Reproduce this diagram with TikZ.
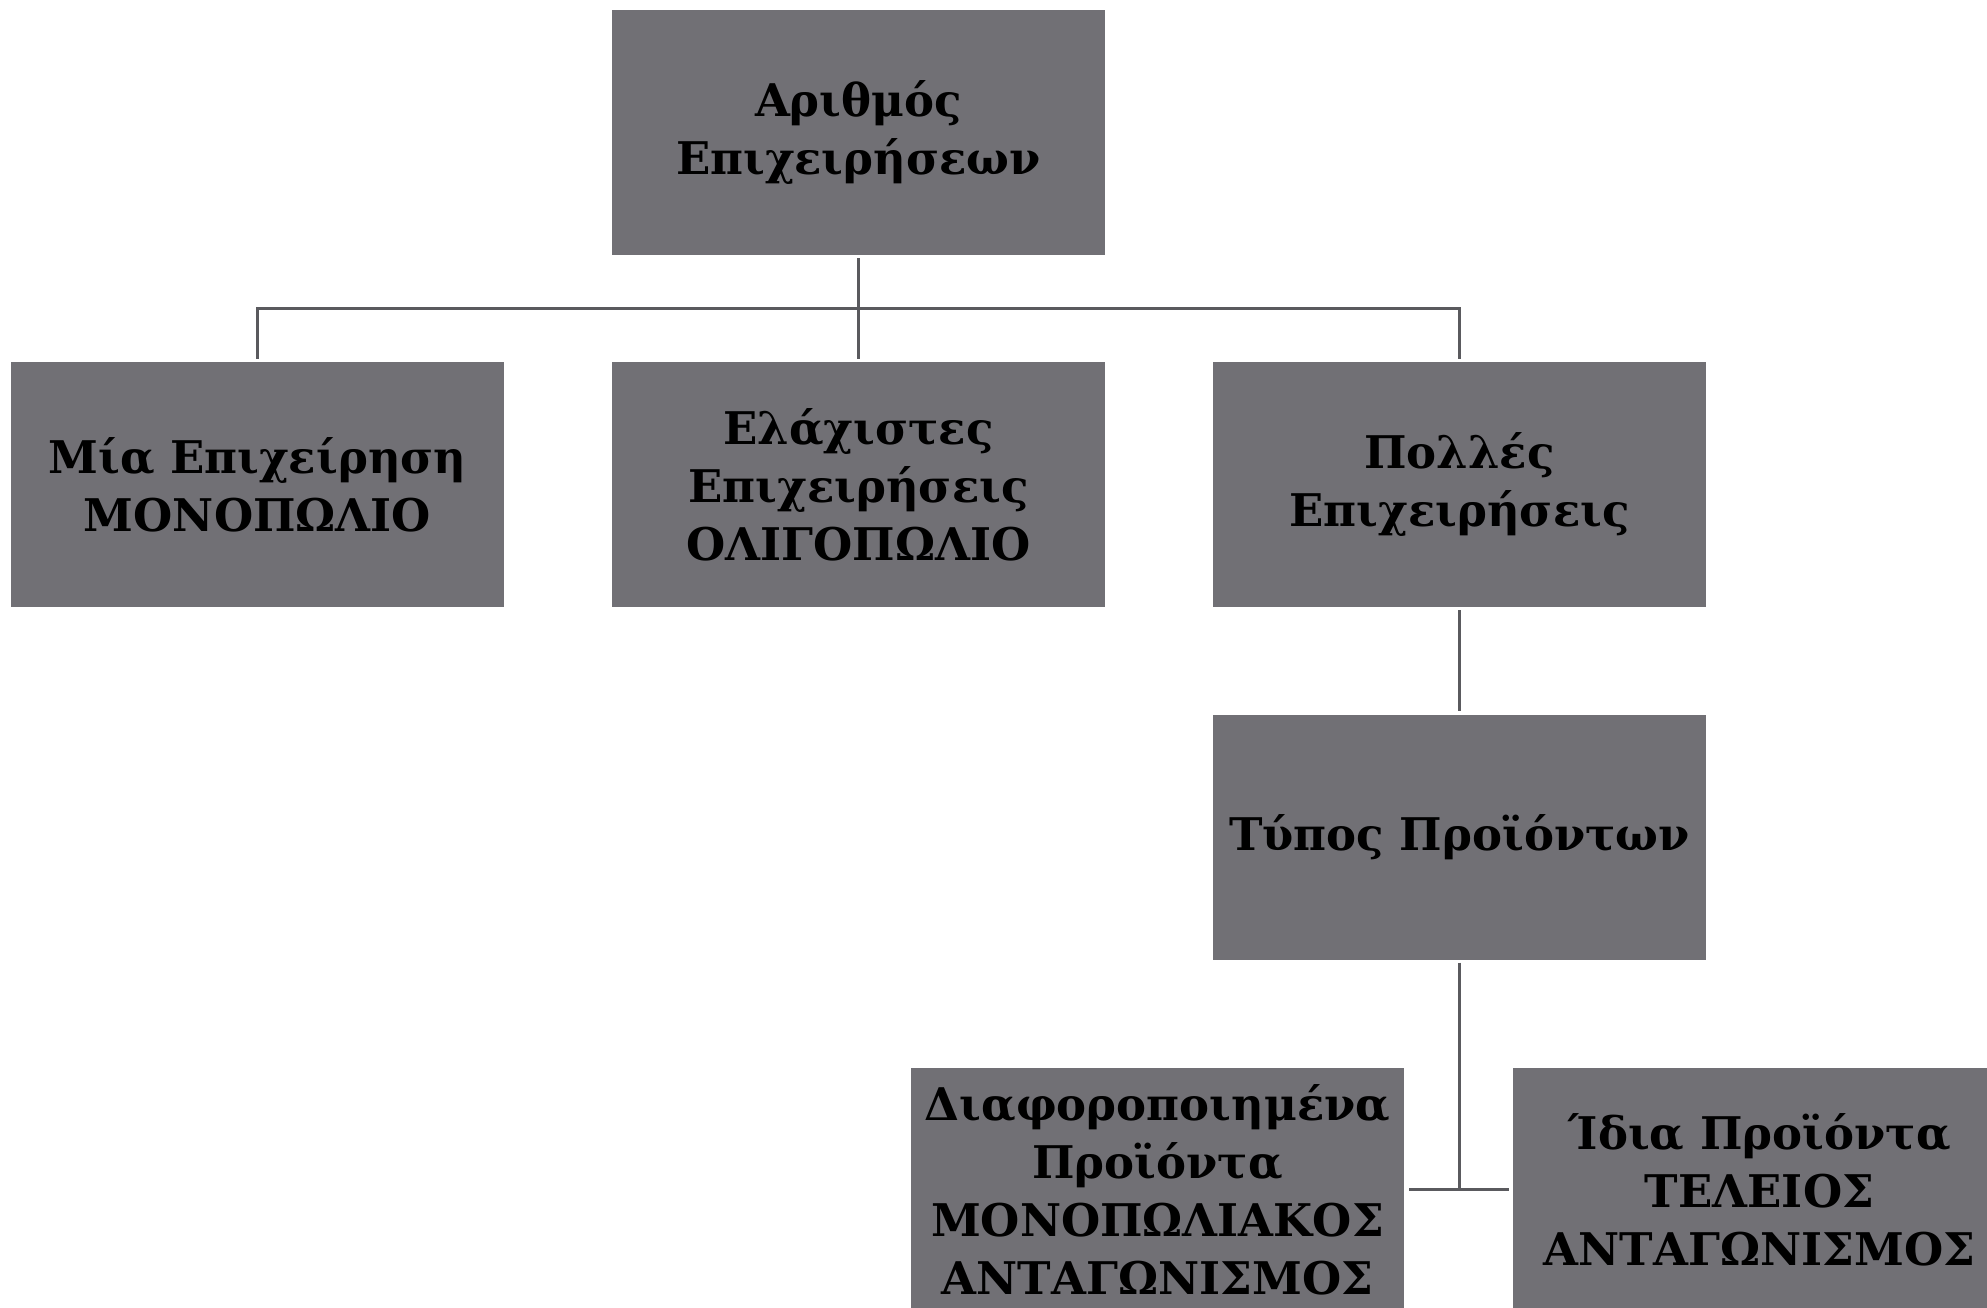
\documentclass[tikz,border=0pt]{standalone}
\usepackage{fontspec}
\setmainfont{DejaVu Serif}
\definecolor{boxgray}{HTML}{717075}
\definecolor{linegray}{HTML}{5A5A5E}
\begin{document}
\begin{tikzpicture}[x=1pt,y=-1pt,
  box/.style={fill=boxgray, draw=none, minimum width=493pt, minimum height=245pt,
    inner sep=0pt, align=center, text=black, font=\fontsize{45}{58}\selectfont\bfseries},
  conn/.style={draw=linegray, line width=3pt}]
\useasboundingbox (0,0) rectangle (1987,1308);
\clip (0,0) rectangle (1987,1308);
\node[box] (top) at (858.5,132.5) {Αριθμός\\Επιχειρήσεων};
\node[box] (b1) at (257.5,484.5) {Μία Επιχείρηση\\ΜΟΝΟΠΩΛΙΟ};
\node[box] (b2) at (858.5,484.5) {Ελάχιστες\\Επιχειρήσεις\\ΟΛΙΓΟΠΩΛΙΟ};
\node[box] (b3) at (1459.5,484.5) {Πολλές\\Επιχειρήσεις};
\node[box] (b4) at (1459.5,837) {Τύπος Προϊόντων};
\node[box] (b5) at (1157.5,1190) {Διαφοροποιημένα\\Προϊόντα\\ΜΟΝΟΠΩΛΙΑΚΟΣ\\ΑΝΤΑΓΩΝΙΣΜΟΣ};
\node[box] (b6) at (1759.5,1190) {Ίδια Προϊόντα\\ΤΕΛΕΙΟΣ\\ΑΝΤΑΓΩΝΙΣΜΟΣ};
\coordinate (hub) at (858.5,308);
\coordinate (hub2) at (1459.5,1189);
\draw[conn] ([yshift=-3pt]top.south) -- ([yshift=3pt]b2.north);
\draw[conn] ([yshift=3pt]b1.north) -- (b1.north |- hub) -- (b3.north |- hub) -- ([yshift=3pt]b3.north);
\draw[conn] ([yshift=-3pt]b3.south) -- ([yshift=3pt]b4.north);
\draw[conn] ([yshift=-3pt]b4.south) -- (hub2);
\draw[conn] ([xshift=5pt]b5.east |- hub2) -- ([xshift=-4pt]b6.west |- hub2);
\end{tikzpicture}
\end{document}
